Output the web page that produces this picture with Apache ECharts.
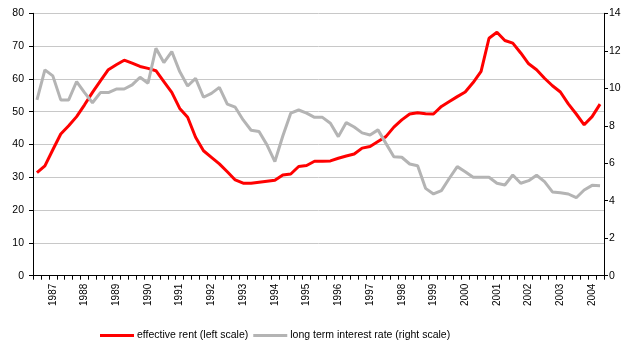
<!DOCTYPE html>
<html>
<head>
<meta charset="utf-8">
<script src="https://cdn.jsdelivr.net/npm/echarts@6/dist/echarts.min.js"></script>
<style>
  html, body { margin: 0; padding: 0; background: #fff; }
  #chart { width: 627px; height: 347px; }
</style>
</head>
<body>
<div id="chart"></div>
<script>
// Quarterly observations, 1986 Q3 – 2004 Q2
const quarters = [
  '1986 Q3','1986 Q4',
  '1987 Q1','1987 Q2','1987 Q3','1987 Q4',
  '1988 Q1','1988 Q2','1988 Q3','1988 Q4',
  '1989 Q1','1989 Q2','1989 Q3','1989 Q4',
  '1990 Q1','1990 Q2','1990 Q3','1990 Q4',
  '1991 Q1','1991 Q2','1991 Q3','1991 Q4',
  '1992 Q1','1992 Q2','1992 Q3','1992 Q4',
  '1993 Q1','1993 Q2','1993 Q3','1993 Q4',
  '1994 Q1','1994 Q2','1994 Q3','1994 Q4',
  '1995 Q1','1995 Q2','1995 Q3','1995 Q4',
  '1996 Q1','1996 Q2','1996 Q3','1996 Q4',
  '1997 Q1','1997 Q2','1997 Q3','1997 Q4',
  '1998 Q1','1998 Q2','1998 Q3','1998 Q4',
  '1999 Q1','1999 Q2','1999 Q3','1999 Q4',
  '2000 Q1','2000 Q2','2000 Q3','2000 Q4',
  '2001 Q1','2001 Q2','2001 Q3','2001 Q4',
  '2002 Q1','2002 Q2','2002 Q3','2002 Q4',
  '2003 Q1','2003 Q2','2003 Q3','2003 Q4',
  '2004 Q1','2004 Q2'
];

// Effective rent (left scale)
const effectiveRent = [
  31.4, 33.5,
  38.4, 43.2, 45.7, 48.5,
  52.1, 55.9, 59.4, 62.8,
  64.3, 65.7, 64.8, 63.8,
  63.2, 62.5, 59.2, 55.9,
  51.0, 48.3, 42.2, 38.1,
  36.1, 34.1, 31.7, 29.2,
  28.2, 28.2, 28.5, 28.8,
  29.1, 30.7, 31.0, 33.3,
  33.6, 34.9, 34.9, 35.0,
  35.8, 36.5, 37.1, 38.9,
  39.4, 40.9, 42.4, 45.3,
  47.5, 49.3, 49.7, 49.4,
  49.3, 51.6, 53.1, 54.6,
  56.0, 58.9, 62.3, 72.4,
  74.2, 71.7, 70.9, 67.9,
  64.6, 62.8, 60.2, 57.9,
  56.0, 52.4, 49.3, 46.0,
  48.5, 52.3
];

// Long term interest rate (right scale)
const longTermRate = [
  9.38, 10.98,
  10.66, 9.38, 9.38, 10.36,
  9.77, 9.23, 9.77, 9.77,
  9.96, 9.96, 10.18, 10.59,
  10.27, 12.13, 11.37, 11.96,
  10.89, 10.12, 10.53, 9.52,
  9.73, 10.05, 9.15, 8.99,
  8.31, 7.76, 7.69, 6.98,
  6.09, 7.45, 8.67, 8.84,
  8.67, 8.45, 8.45, 8.13,
  7.42, 8.17, 7.93, 7.62,
  7.51, 7.78, 7.06, 6.35,
  6.32, 5.96, 5.87, 4.66,
  4.36, 4.54, 5.20, 5.82,
  5.55, 5.25, 5.25, 5.25,
  4.93, 4.84, 5.37, 4.93,
  5.07, 5.36, 5.02, 4.47,
  4.43, 4.36, 4.16, 4.57,
  4.82, 4.80
];

const seriesNames = ['effective rent (left scale)', 'long term interest rate (right scale)'];
const leftTicks = { min: 0, max: 80, step: 10 };
const rightTicks = { min: 0, max: 14, step: 2 };

const FONT = "'Liberation Sans', Arial, sans-serif";
const chart = echarts.init(document.getElementById('chart'), null, { renderer: 'canvas' });

chart.setOption({
  animation: false,
  backgroundColor: '#ffffff',
  textStyle: { fontFamily: FONT },
  grid: { left: 33, right: 23, top: 13.3, bottom: 71.3, containLabel: false },
  legend: {
    left: 100,
    top: 330,
    padding: 0,
    icon: 'rect',
    itemWidth: 34,
    itemHeight: 3,
    itemGap: 5,
    textStyle: { fontFamily: FONT, fontSize: 10.5, color: '#000', padding: [0, 0, 0, -2] },
    data: seriesNames
  },
  xAxis: {
    type: 'category',
    data: quarters,
    boundaryGap: true,
    axisLine: { show: true, lineStyle: { color: '#000', width: 1 } },
    axisTick: { show: true, interval: 0, length: 4, lineStyle: { color: '#000' } },
    axisLabel: {
      interval: (idx) => idx % 4 === 2,
      rotate: 90,
      margin: 8,
      fontFamily: FONT,
      fontSize: 10,
      color: '#000',
      formatter: (v) => v.slice(0, 4)
    },
    splitLine: { show: false }
  },
  yAxis: [
    {
      type: 'value',
      position: 'left',
      min: leftTicks.min,
      max: leftTicks.max,
      interval: leftTicks.step,
      axisLine: { show: true, lineStyle: { color: '#000', width: 1 } },
      axisTick: { show: true, length: 4, lineStyle: { color: '#000' } },
      axisLabel: { margin: 9, fontFamily: FONT, fontSize: 10.5, color: '#000' },
      splitLine: { show: true, lineStyle: { color: '#c8c8c8', width: 1 } }
    },
    {
      type: 'value',
      position: 'right',
      min: rightTicks.min,
      max: rightTicks.max,
      interval: rightTicks.step,
      axisLine: { show: true, lineStyle: { color: '#000', width: 1 } },
      axisTick: { show: true, length: 4, lineStyle: { color: '#000' } },
      axisLabel: { margin: 5, fontFamily: FONT, fontSize: 10.5, color: '#000' },
      splitLine: { show: false }
    }
  ],
  series: [
    {
      name: seriesNames[0],
      type: 'line',
      yAxisIndex: 0,
      data: effectiveRent,
      symbol: 'none',
      color: '#ff0000',
      lineStyle: { color: '#ff0000', width: 3 },
      z: 2
    },
    {
      name: seriesNames[1],
      type: 'line',
      yAxisIndex: 1,
      data: longTermRate,
      symbol: 'none',
      color: '#b4b4b4',
      lineStyle: { color: '#b4b4b4', width: 3 },
      z: 3
    }
  ]
});
</script>
</body>
</html>
